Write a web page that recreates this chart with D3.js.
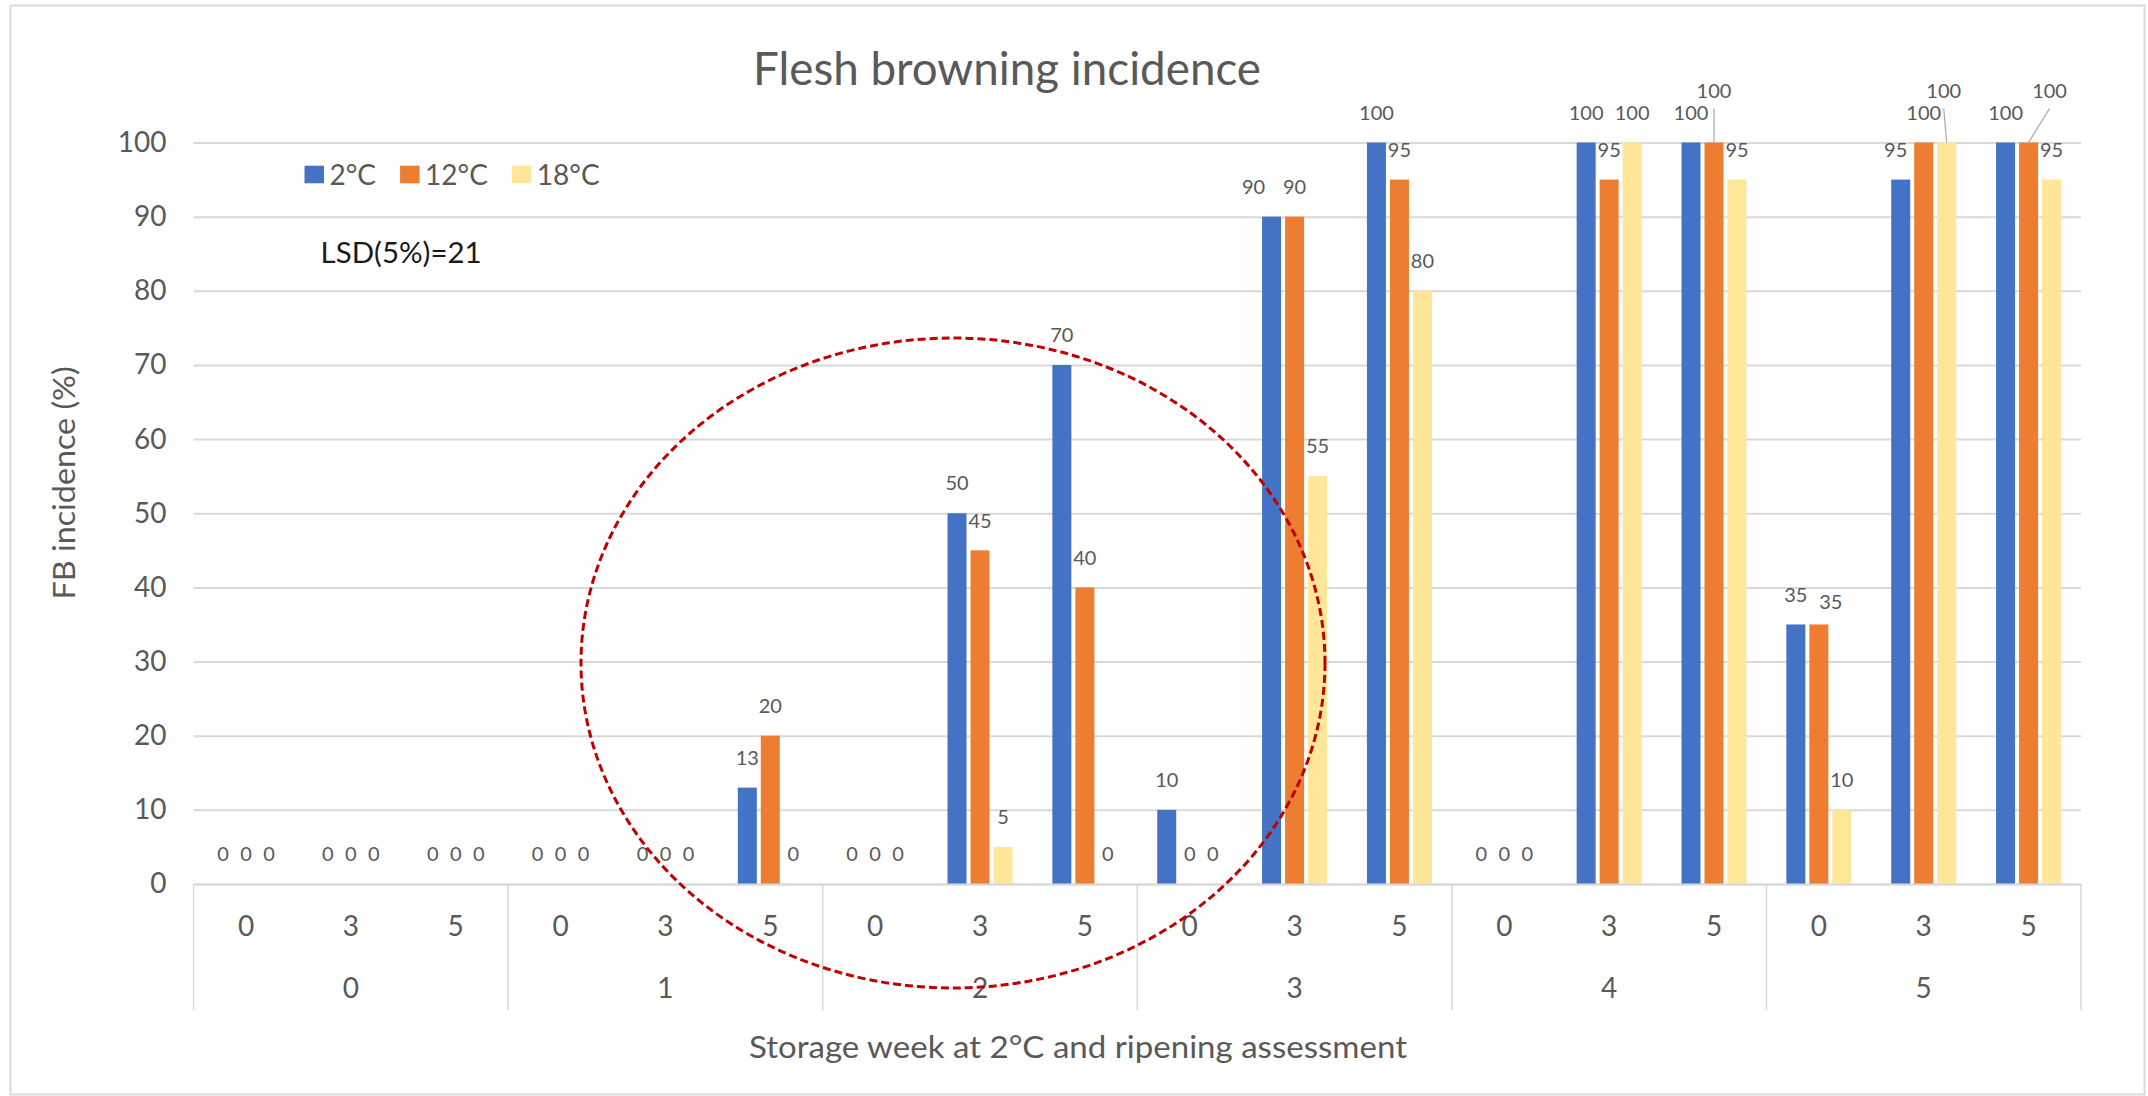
<!DOCTYPE html>
<meta charset="utf-8">
<style>

body {
  margin: 0;
  background-color: #fff;
  font-family: Lato, "Open Sans", sans-serif;
}

</style>
<body>

<div id="chart"></div>

<script src="https://cdn.jsdelivr.net/npm/d3@7"></script>
<script>

// data
var weeks = ['0', '1', '2', '3', '4', '5'];
var assessments = ['0', '3', '5'];
var seriesNames = ['2°C', '12°C', '18°C'];
var seriesColors = ['#4472C4', '#ED7D31', '#FFE699'];

// one value per week x assessment (18 each)
var fb2  = [0, 0, 0,   0, 0, 13,  0, 50, 70,  10, 90, 100,  0, 100, 100,  35, 95, 100];
var fb12 = [0, 0, 0,   0, 0, 20,  0, 45, 40,   0, 90, 95,   0, 95, 100,   35, 100, 100];
var fb18 = [0, 0, 0,   0, 0, 0,   0, 5, 0,     0, 55, 80,   0, 100, 95,   10, 100, 95];

var yTicks = [0, 10, 20, 30, 40, 50, 60, 70, 80, 90, 100];

// hand-moved data labels in the original (category index, series index -> shift in px)
var labelNudge = {
  '10-0': {dx: -18, dy: 0, leader: false},
  '14-1': {dx: 0, dy: -22, leader: true},
  '16-0': {dx: -5, dy: 0, leader: false},
  '16-2': {dx: -3, dy: -22, leader: true},
  '17-1': {dx: 21, dy: -22, leader: true},
  '15-1': {dx: 12, dy: 7, leader: false}
};

drawChart();

function drawChart(){
  var W = 2148, H = 1096;
  var plot = {left: 193.6, right: 2081, top: 142.5, bottom: 884};
  var textCol = '#595959', gridCol = '#D9D9D9';

  var svg = d3.select('#chart').append('svg')
    .attr('width', W)
    .attr('height', H)
    .style('display', 'block');

  // chart frame
  svg.append('rect')
    .attr('x', 10.5).attr('y', 5.5)
    .attr('width', 2134).attr('height', 1089)
    .style('fill', '#fff')
    .style('stroke', gridCol)
    .style('stroke-width', 2);

  var cats = [];
  weeks.forEach(function(w){ assessments.forEach(function(a){ cats.push(w + '|' + a); }); });

  var allSeries = [fb2, fb12, fb18];

  var x0 = d3.scaleBand().domain(cats)
    .range([plot.left, plot.right])
    .paddingInner(0.38).paddingOuter(0.19);
  var x1 = d3.scaleBand().domain(seriesNames)
    .range([0, x0.bandwidth()])
    .paddingInner(0.174);
  var y = d3.scaleLinear().domain([0, 100]).range([plot.bottom, plot.top]);
  var xWeek = d3.scaleBand().domain(weeks).range([plot.left, plot.right]);

  // y axis with gridlines
  var yAxis = svg.append('g')
    .attr('transform', 'translate(' + plot.left + ',0)')
    .call(d3.axisLeft(y).tickValues(yTicks)
      .tickSize(-(plot.right - plot.left)).tickPadding(27));
  yAxis.select('.domain').remove();
  yAxis.selectAll('line').style('stroke', gridCol).style('stroke-width', 2);
  yAxis.selectAll('text')
    .style('font-family', 'Lato, sans-serif')
    .style('font-size', '28px')
    .style('fill', textCol);

  // bars
  var rows = cats.map(function(c, i){
    return seriesNames.map(function(s, j){
      return {cat: c, i: i, j: j, name: s, value: allSeries[j][i]};
    });
  });

  var groups = svg.append('g').selectAll('g')
    .data(rows).enter().append('g')
    .attr('transform', function(d, i){ return 'translate(' + x0(cats[i]) + ',0)'; });

  groups.selectAll('rect')
    .data(function(d){ return d; }).enter().append('rect')
    .attr('x', function(d){ return x1(d.name); })
    .attr('y', function(d){ return y(d.value); })
    .attr('width', x1.bandwidth())
    .attr('height', function(d){ return y(0) - y(d.value); })
    .style('fill', function(d){ return seriesColors[d.j]; });

  // data labels
  groups.selectAll('g.lbl')
    .data(function(d){ return d; }).enter().append('g')
    .attr('class', 'lbl')
    .each(function(d){
      var g = d3.select(this);
      var n = labelNudge[d.i + '-' + d.j] || {dx: 0, dy: 0};
      var cx = x1(d.name) + x1.bandwidth() / 2;
      var top = y(d.value);
      var ly = top - 30 + n.dy;
      if(n.leader){
        g.append('line')
          .attr('x1', cx + n.dx).attr('y1', ly + 18)
          .attr('x2', cx).attr('y2', top)
          .style('stroke', '#A6A6A6').style('stroke-width', 1.2);
      }
      g.append('text')
        .attr('x', cx + n.dx)
        .attr('y', ly + 7.2)
        .attr('text-anchor', 'middle')
        .style('font-size', '20px')
        .style('fill', textCol)
        .text(d.value);
    });

  // category axis: assessment row
  var xa = svg.append('g')
    .attr('transform', 'translate(0,' + plot.bottom + ')')
    .call(d3.axisBottom(x0).tickSize(0).tickPadding(0)
      .tickFormat(function(c){ return c.split('|')[1]; }));
  xa.select('.domain').style('stroke', gridCol).style('stroke-width', 2);
  xa.selectAll('text')
    .attr('y', 52).attr('dy', null)
    .style('font-family', 'Lato, sans-serif')
    .style('font-size', '28px')
    .style('fill', textCol);

  // week row
  var xw = svg.append('g')
    .attr('transform', 'translate(0,' + plot.bottom + ')')
    .call(d3.axisBottom(xWeek).tickSize(0).tickPadding(0));
  xw.select('.domain').remove();
  xw.selectAll('text')
    .attr('y', 114).attr('dy', null)
    .style('font-family', 'Lato, sans-serif')
    .style('font-size', '28px')
    .style('fill', textCol);

  // week separators
  svg.append('g').selectAll('line')
    .data(weeks.map(function(w){ return xWeek(w); }).concat([plot.right]))
    .enter().append('line')
    .attr('x1', function(d){ return d; }).attr('x2', function(d){ return d; })
    .attr('y1', plot.bottom).attr('y2', 1010)
    .style('stroke', gridCol).style('stroke-width', 1.5);

  // titles
  svg.append('text')
    .attr('x', 1007).attr('y', 85)
    .attr('text-anchor', 'middle')
    .attr('textLength', 508).attr('lengthAdjust', 'spacingAndGlyphs')
    .style('font-size', '46px')
    .style('fill', textCol)
    .text('Flesh browning incidence');

  svg.append('text')
    .attr('x', 1078).attr('y', 1058)
    .attr('text-anchor', 'middle')
    .attr('textLength', 658).attr('lengthAdjust', 'spacingAndGlyphs')
    .style('font-size', '30px')
    .style('fill', textCol)
    .text('Storage week at 2°C and ripening assessment');

  svg.append('text')
    .attr('transform', 'translate(75,483) rotate(-90)')
    .attr('text-anchor', 'middle')
    .attr('textLength', 233).attr('lengthAdjust', 'spacingAndGlyphs')
    .style('font-size', '30px')
    .style('fill', textCol)
    .text('FB incidence (%)');

  // legend
  var lx = 304.5;
  var legend = svg.append('g');
  seriesNames.forEach(function(s, j){
    legend.append('rect')
      .attr('x', lx).attr('y', 165.7)
      .attr('width', 19.5).attr('height', 17.6)
      .style('fill', seriesColors[j]);
    var t = legend.append('text')
      .attr('x', lx + 25).attr('y', 185)
      .style('font-size', '28px')
      .style('fill', textCol)
      .text(s);
    lx = lx + 25 + t.node().getComputedTextLength() + 24;
  });

  svg.append('text')
    .attr('x', 320.6).attr('y', 263)
    .attr('textLength', 161).attr('lengthAdjust', 'spacingAndGlyphs')
    .style('font-size', '29px')
    .style('fill', '#1a1a1a')
    .text('LSD(5%)=21');

  // red dashed ellipse drawn over the bars
  svg.append('ellipse')
    .attr('cx', 953).attr('cy', 663)
    .attr('rx', 372).attr('ry', 325)
    .style('fill', 'none')
    .style('stroke', '#C00000')
    .style('stroke-width', 3)
    .style('stroke-dasharray', '8,4');
}

</script>
